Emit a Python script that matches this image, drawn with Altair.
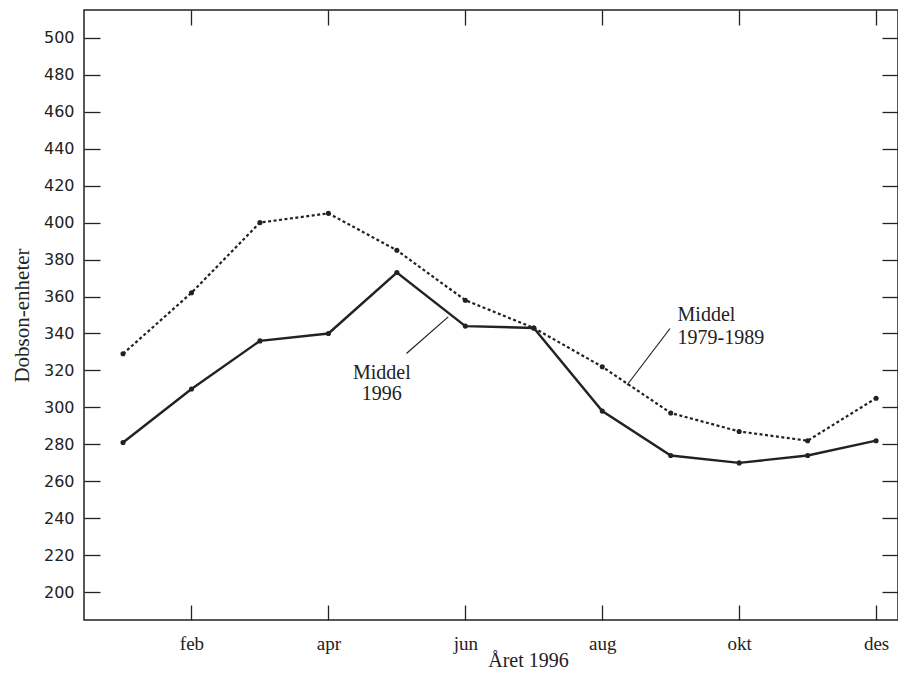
import altair as alt
import pandas as pd

# ---- data ----
months = ["jan", "feb", "mar", "apr", "mai", "jun", "jul", "aug", "sep", "okt", "nov", "des"]
month_no = list(range(1, 13))
middel_1996 = [281, 310, 336, 340, 373, 344, 343, 298, 274, 270, 274, 282]
middel_1979_1989 = [329, 362, 400, 405, 385, 358, 343, 322, 297, 287, 282, 305]

x_tick_values = [2, 4, 6, 8, 10, 12]
y_tick_values = list(range(200, 501, 20))

# annotation texts (data coordinates: month number, Dobson units)
ann_text = ["Middel", "1996", "Middel", "1979-1989"]
ann_x = [4.78, 4.78, 9.10, 9.10]
ann_y = [318.8, 307.2, 349.9, 337.3]
ann_align = ["center", "center", "left", "left"]

lead_x = [5.14, 8.36]
lead_y = [329.2, 312.0]
lead_x2 = [5.75, 8.99]
lead_y2 = [349.0, 342.7]

ink = "#222222"

df = pd.DataFrame({
    "m": month_no * 2,
    "v": middel_1996 + middel_1979_1989,
    "series": ["1996"] * 12 + ["1979-1989"] * 12,
})
ann_df = pd.DataFrame({"t": ann_text, "x": ann_x, "y": ann_y, "al": ann_align})
lead_df = pd.DataFrame({"x": lead_x, "y": lead_y, "x2": lead_x2, "y2": lead_y2})

x_scale = alt.Scale(domain=[0.43, 12.32], nice=False, zero=False)
y_scale = alt.Scale(domain=[185, 515], nice=False, zero=False)

month_array = "[" + ",".join("'" + m + "'" for m in months) + "]"

bottom_axis = alt.Axis(
    orient="bottom", values=x_tick_values, labelExpr=month_array + "[datum.value - 1]",
    domain=False, grid=False, offset=-15, tickSize=15, tickColor=ink, tickWidth=1.3,
    labelPadding=14, labelFont="Liberation Serif", labelFontSize=19, labelColor=ink,
    title="Året 1996", titleFont="Liberation Serif", titleFontSize=20,
    titleFontWeight="normal", titleColor=ink, titleX=444, titlePadding=-3,
)
left_axis = alt.Axis(
    orient="left", values=y_tick_values, domain=False, grid=False, offset=-16,
    tickSize=16, tickColor=ink, tickWidth=1.3, labelPadding=10,
    labelFont="DejaVu Sans", labelFontSize=16, labelColor=ink,
    title="Dobson-enheter", titleFont="Liberation Serif", titleFontSize=21,
    titleFontWeight="normal", titleColor=ink, titlePadding=11,
)
top_axis = alt.Axis(
    orient="top", values=x_tick_values, labels=False, domain=False, grid=False,
    offset=-15, tickSize=15, tickColor=ink, tickWidth=1.3, title=None,
)
right_axis = alt.Axis(
    orient="right", values=y_tick_values, labels=False, domain=False, grid=False,
    offset=-16, tickSize=16, tickColor=ink, tickWidth=1.3, title=None,
)

base = alt.Chart(df)

line96 = base.transform_filter("datum.series == '1996'").mark_line(
    color=ink, strokeWidth=2.4
).encode(
    x=alt.X("m:Q", scale=x_scale, axis=bottom_axis),
    y=alt.Y("v:Q", scale=y_scale, axis=left_axis),
)

line79 = base.transform_filter("datum.series == '1979-1989'").mark_line(
    color=ink, strokeWidth=2.2, strokeDash=[3, 2.5]
).encode(
    x=alt.X("m:Q", scale=x_scale, axis=top_axis),
    y=alt.Y("v:Q", scale=y_scale, axis=right_axis),
)

points = base.mark_circle(color=ink, size=26, opacity=1).encode(
    x=alt.X("m:Q", scale=x_scale, axis=None),
    y=alt.Y("v:Q", scale=y_scale, axis=None),
)

texts_c = alt.Chart(ann_df).transform_filter("datum.al == 'center'").mark_text(
    font="Liberation Serif", fontSize=20, color=ink, align="center", baseline="middle"
).encode(
    x=alt.X("x:Q", scale=x_scale, axis=None),
    y=alt.Y("y:Q", scale=y_scale, axis=None),
    text="t:N",
)
texts_l = alt.Chart(ann_df).transform_filter("datum.al == 'left'").mark_text(
    font="Liberation Serif", fontSize=20, color=ink, align="left", baseline="middle"
).encode(
    x=alt.X("x:Q", scale=x_scale, axis=None),
    y=alt.Y("y:Q", scale=y_scale, axis=None),
    text="t:N",
)

leaders = alt.Chart(lead_df).mark_rule(color=ink, strokeWidth=1.2).encode(
    x=alt.X("x:Q", scale=x_scale, axis=None),
    y=alt.Y("y:Q", scale=y_scale, axis=None),
    x2="x2:Q",
    y2="y2:Q",
)

chart = alt.layer(line96, line79, points, leaders, texts_c, texts_l).resolve_axis(
    x="independent", y="independent"
).properties(
    width=814, height=610,
    autosize=alt.AutoSizeParams(type="none"),
    padding={"left": 76, "top": 2, "right": 0, "bottom": 52},
    background="white",
).configure_view(stroke=ink, strokeWidth=1.5)

chart.save("out.html", embed_options={"renderer": "svg", "actions": False})
